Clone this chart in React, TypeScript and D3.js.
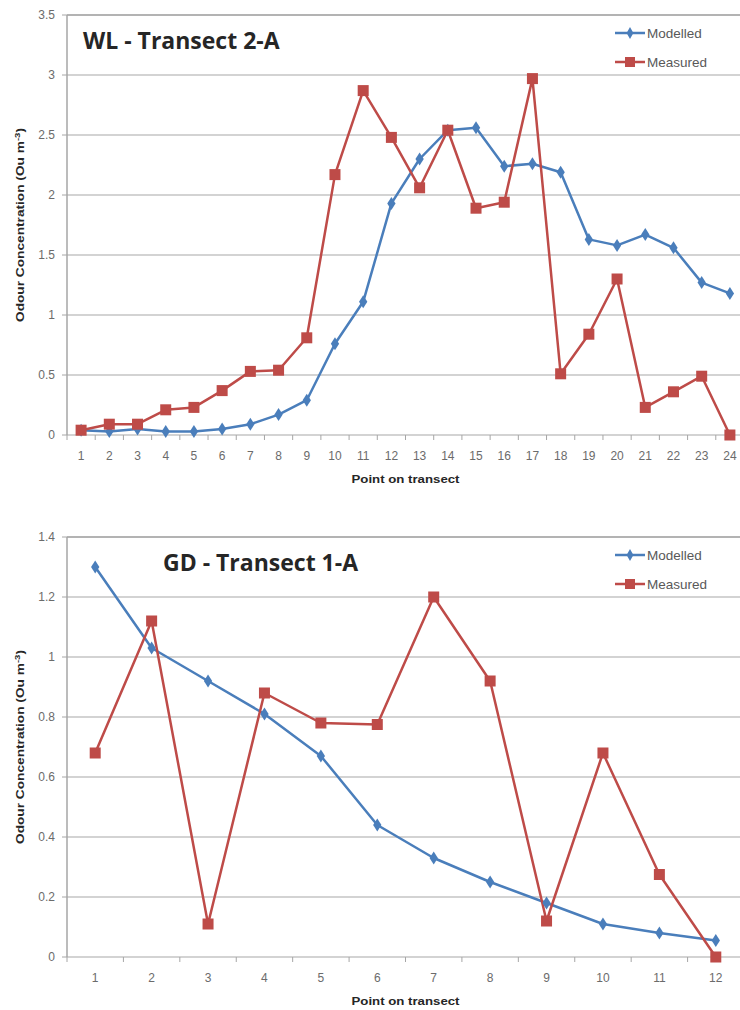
import * as d3 from 'd3'

// WL - Transect 2-A
const pointsA = d3.range(1, 25)
const modelledA = [0.04, 0.03, 0.05, 0.03, 0.03, 0.05, 0.09, 0.17, 0.29, 0.76, 1.11, 1.93, 2.3, 2.54, 2.56, 2.24, 2.26, 2.19, 1.63, 1.58, 1.67, 1.56, 1.27, 1.18]
const measuredA = [0.04, 0.09, 0.09, 0.21, 0.23, 0.37, 0.53, 0.54, 0.81, 2.17, 2.87, 2.48, 2.06, 2.54, 1.89, 1.94, 2.97, 0.51, 0.84, 1.3, 0.23, 0.36, 0.49, 0]
const yTicksA = [0, 0.5, 1, 1.5, 2, 2.5, 3, 3.5]

// GD - Transect 1-A
const pointsB = d3.range(1, 13)
const modelledB = [1.3, 1.03, 0.92, 0.81, 0.67, 0.44, 0.33, 0.25, 0.18, 0.11, 0.08, 0.055]
const measuredB = [0.68, 1.12, 0.11, 0.88, 0.78, 0.775, 1.2, 0.92, 0.12, 0.68, 0.275, 0]
const yTicksB = [0, 0.2, 0.4, 0.6, 0.8, 1, 1.2, 1.4]

const BLUE = '#4a7ebb'
const RED = '#be4b48'
const FONT = "'Liberation Sans', Arial, sans-serif"

type ChartProps = {
  points: number[]
  modelled: number[]
  measured: number[]
  yTicks: number[]
  title: string
  titleX: number
  top: number
  bottom: number
}

function TransectChart({ points, modelled, measured, yTicks, title, titleX, top, bottom }: ChartProps) {
  const left = 67
  const right = 744
  const x = d3.scalePoint<number>().domain(points).range([left, right]).padding(0.5)
  const y = d3.scaleLinear().domain([0, yTicks[yTicks.length - 1]]).range([bottom, top])
  const step = x.step()
  const line = d3.line<number>().x((_, i) => x(points[i])!).y((d) => y(d))
  const fmt = d3.format('~g')

  return (
    <g>
      {/* gridlines */}
      {yTicks.map((t, i) => (
        <line key={'g' + t} x1={left} x2={740} y1={y(t)} y2={y(t)}
          stroke={i === yTicks.length - 1 ? '#9a9a9a' : '#c4c4c4'} strokeWidth={1.5} />
      ))}
      {/* y axis */}
      <line x1={left} x2={left} y1={top} y2={bottom} stroke="#a6a6a6" strokeWidth={1.5} />
      {yTicks.map((t) => (
        <g key={'yt' + t}>
          <line x1={left - 5} x2={left} y1={y(t)} y2={y(t)} stroke="#a6a6a6" />
          <text x={55} y={y(t)} dy="0.35em" textAnchor="end" fontSize={12} fill="#6b6b6b" fontFamily={FONT}>
            {fmt(t)}
          </text>
        </g>
      ))}
      {/* x axis ticks at category boundaries */}
      {d3.range(points.length + 1).map((i) => (
        <line key={'xt' + i} x1={left + i * step} x2={left + i * step} y1={bottom} y2={bottom + 5} stroke="#a6a6a6" />
      ))}
      {points.map((p) => (
        <text key={'xl' + p} x={x(p)} y={bottom + 21} dy="0.35em" textAnchor="middle" fontSize={12} fill="#6b6b6b" fontFamily={FONT}>
          {p}
        </text>
      ))}
      <text x={(left + right) / 2} y={bottom + 44} dy="0.35em" textAnchor="middle" fontSize={11.5} fontWeight="bold" fill="#262626"
        fontFamily={FONT} textLength={108} lengthAdjust="spacingAndGlyphs">
        Point on transect
      </text>
      <text transform={`translate(20,${(top + bottom) / 2}) rotate(-90)`} textAnchor="middle" dy="0.35em"
        fontSize={10} fontWeight="bold" fill="#262626" fontFamily={FONT} textLength={194} lengthAdjust="spacingAndGlyphs">
        Odour Concentration (Ou m<tspan dy="-4" fontSize={7}>-3</tspan><tspan dy="4">)</tspan>
      </text>
      {/* series */}
      <path d={line(modelled) || ''} fill="none" stroke={BLUE} strokeWidth={2.5} strokeLinejoin="round" />
      <path d={line(measured) || ''} fill="none" stroke={RED} strokeWidth={2.5} strokeLinejoin="round" />
      {modelled.map((v, i) => (
        <path key={'m' + i} d={d3.symbol(d3.symbolDiamond, 60)() || ''}
          transform={`translate(${x(points[i])},${y(v)}) scale(1,0.9)`} fill={BLUE} />
      ))}
      {measured.map((v, i) => (
        <rect key={'r' + i} x={x(points[i])! - 5.5} y={y(v) - 5.5} width={11} height={11} fill={RED} />
      ))}
      {/* title */}
      <text x={titleX} y={top + 34} fontSize={23} fontWeight="bold" fill="#262626" fontFamily="'Open Sans', sans-serif">
        {title}
      </text>
      {/* legend */}
      {[
        { name: 'Modelled', color: BLUE, dy: 18 },
        { name: 'Measured', color: RED, dy: 47 }
      ].map((s) => (
        <g key={s.name} transform={`translate(615,${top + s.dy})`}>
          <line x1={0} x2={30} stroke={s.color} strokeWidth={2.5} />
          {s.name === 'Modelled' ? (
            <path d={d3.symbol(d3.symbolDiamond, 40)() || ''} transform="translate(15,0)" fill={s.color} />
          ) : (
            <rect x={10} y={-5} width={10} height={10} fill={s.color} />
          )}
          <text x={32} dy="0.35em" fontSize={13.5} fill="#595959" fontFamily={FONT}>{s.name}</text>
        </g>
      ))}
    </g>
  )
}

export default function App() {
  return (
    <svg width={740} height={1010} style={{ position: 'absolute', left: 0, top: 0, background: '#fff' }}>
      <rect width={740} height={1010} fill="#fff" />
      <TransectChart points={pointsA} modelled={modelledA} measured={measuredA} yTicks={yTicksA}
        title="WL - Transect 2-A" titleX={83} top={15} bottom={435} />
      <TransectChart points={pointsB} modelled={modelledB} measured={measuredB} yTicks={yTicksB}
        title="GD - Transect 1-A" titleX={163} top={537} bottom={957} />
    </svg>
  )
}
